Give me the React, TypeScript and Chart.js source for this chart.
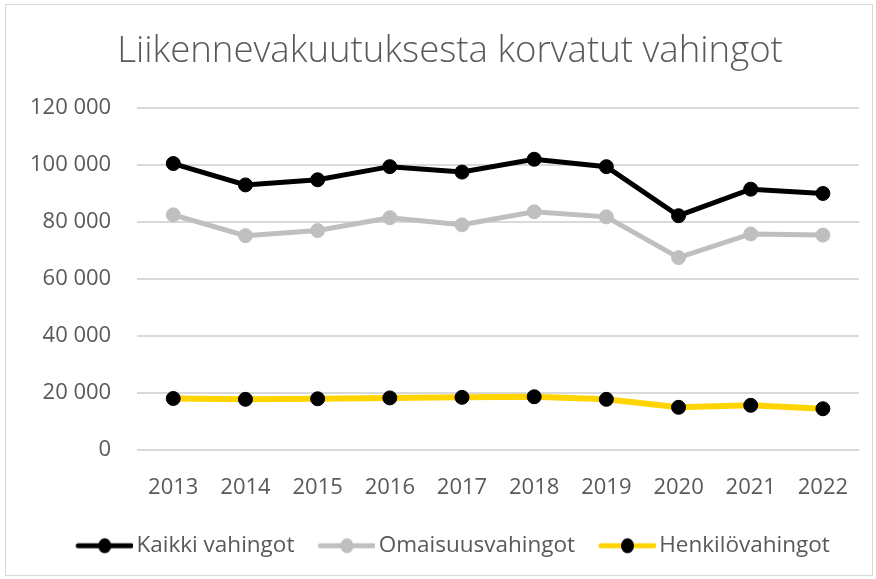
import React, { useEffect, useRef } from "react";
import { Chart, registerables } from "chart.js";

Chart.register(...registerables);

const years = ["2013", "2014", "2015", "2016", "2017", "2018", "2019", "2020", "2021", "2022"];
const kaikki = [100500, 93000, 94800, 99400, 97500, 102000, 99400, 82200, 91500, 90000];
const omaisuus = [82500, 75200, 77000, 81500, 79000, 83600, 81800, 67500, 75800, 75400];
const henkilo = [18100, 17800, 18000, 18300, 18500, 18700, 17800, 15000, 15700, 14500];

const seriesNames = ["Kaikki vahingot", "Omaisuusvahingot", "Henkilövahingot"];
const lineColors = ["#000000", "#bfbfbf", "#ffd400"];
const pointColors = ["#000000", "#bfbfbf", "#000000"];

const FONT = "'Open Sans', sans-serif";

function legendIcon(line: string, point: string) {
  const c = document.createElement("canvas");
  c.width = 71;
  c.height = 18;
  const ctx = c.getContext("2d")!;
  ctx.strokeStyle = line;
  ctx.lineWidth = 5;
  ctx.lineCap = "round";
  ctx.beginPath();
  ctx.moveTo(16, 9);
  ctx.lineTo(69, 9);
  ctx.stroke();
  ctx.fillStyle = point;
  ctx.beginPath();
  ctx.ellipse(42.5, 9, 6.5, 7.5, 0, 0, Math.PI * 2);
  ctx.fill();
  return c;
}

function fmt(v: number) {
  return String(Math.round(v)).replace(/\B(?=(\d{3})+(?!\d))/g, " ");
}

// shift title and legend so they are centred on the whole frame like the reference
const centerShift = {
  id: "centerShift",
  afterLayout(chart: any) {
    if (chart.titleBlock) chart.titleBlock.left += 37;
    if (chart.legend) chart.legend.left += 37;
  },
};

export default function App() {
  const ref = useRef<HTMLCanvasElement>(null);
  useEffect(() => {
    document.body.style.margin = "0";
    const data = [kaikki, omaisuus, henkilo];
    const icons = seriesNames.map((_, i) => legendIcon(lineColors[i], pointColors[i]));
    const chart = new Chart(ref.current!, {
      type: "line",
      data: {
        labels: years,
        datasets: seriesNames.map((name, i) => ({
          label: name,
          data: data[i],
          borderColor: lineColors[i],
          backgroundColor: pointColors[i],
          pointBackgroundColor: pointColors[i],
          pointBorderColor: pointColors[i],
          borderWidth: i === 2 ? 6 : 5,
          pointRadius: 7,
          pointBorderWidth: 1,
          tension: 0,
          pointStyle: "circle",
        })),
      },
      plugins: [centerShift],
      options: {
        animation: false,
        responsive: false,
        maintainAspectRatio: false,
        layout: { padding: { left: 4, right: 17, top: 30, bottom: 12 } },
        plugins: {
          title: {
            display: true,
            text: "Liikennevakuutuksesta korvatut vahingot",
            color: "#595959",
            font: { family: FONT, size: 36.6, weight: "300" as any },
            padding: { top: 0, bottom: 34 },
          },
          legend: {
            position: "bottom",
            labels: {
              usePointStyle: true,
              pointStyleWidth: 55,
              color: "#595959",
              font: { family: FONT, size: 22.5 },
              padding: 18,
              boxHeight: 16,
              generateLabels: (ch: any) =>
                ch.data.datasets.map((ds: any, i: number) => ({
                  text: ds.label,
                  pointStyle: icons[i],
                  fillStyle: "transparent",
                  strokeStyle: "transparent",
                  lineWidth: 0,
                  hidden: false,
                  datasetIndex: i,
                  fontColor: "#595959",
                })),
            },
          },
          tooltip: { enabled: false },
        },
        scales: {
          x: {
            offset: true,
            grid: { display: false },
            border: { display: false },
            ticks: {
              color: "#595959",
              font: { family: FONT, size: 22 },
              padding: 16,
            },
          },
          y: {
            min: 0,
            max: 120000,
            grid: { color: "#d9d9d9", lineWidth: 2, drawTicks: false },
            border: { display: false },
            ticks: {
              stepSize: 20000,
              color: "#595959",
              font: { family: FONT, size: 22 },
              padding: 26,
              callback: (v: any) => fmt(Number(v)),
            },
          },
        },
      },
    });
    return () => chart.destroy();
  }, []);
  return (
    <div style={{ position: "absolute", left: 0, top: 0, width: 876, height: 579, background: "#fff" }}>
      <div
        style={{
          position: "absolute",
          left: 5,
          top: 4,
          width: 866,
          height: 570,
          border: "1px solid #d9d9d9",
        }}
      />
      <canvas ref={ref} width={876} height={579} style={{ position: "absolute", left: 0, top: 0 }} />
    </div>
  );
}
